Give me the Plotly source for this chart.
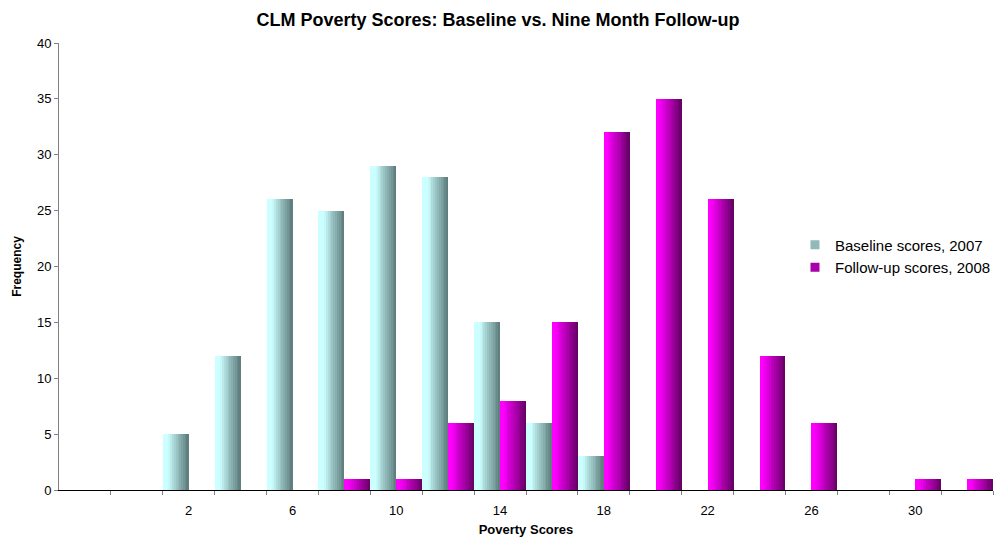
import plotly.graph_objects as go

# Poverty score bins and frequency counts
scores = [0, 2, 4, 6, 8, 10, 12, 14, 16, 18, 20, 22, 24, 26, 28, 30, 32]
baseline_2007 = [0, 5, 12, 26, 25, 29, 28, 15, 6, 3, 0, 0, 0, 0, 0, 0, 0]
followup_2008 = [0, 0, 0, 0, 1, 1, 6, 8, 15, 32, 35, 26, 12, 6, 0, 1, 1]
tick_labels = [2, 6, 10, 14, 18, 22, 26, 30]

series_names = ["Baseline scores, 2007", "Follow-up scores, 2008"]

FONT = "Arial, 'Liberation Sans', sans-serif"
N_STRIPS = 14


def lerp(c0, c1, t):
    return "rgb(%d,%d,%d)" % tuple(round(a + (b - a) * t) for a, b in zip(c0, c1))


def cyan_shade(t):
    # light cyan on the left third, shading to slate grey on the right
    u = max(0.0, (t - 0.22) / 0.78)
    return lerp((204, 255, 255), (92, 122, 122), u ** 0.9)


def magenta_shade(t):
    u = max(0.0, (t - 0.12) / 0.88)
    return lerp((255, 0, 255), (100, 0, 100), u)


fig = go.Figure()

# Each bar is built from overlapping vertical strips to give a horizontal gradient
for values, shade, start in [(baseline_2007, cyan_shade, -1.0), (followup_2008, magenta_shade, 0.0)]:
    for i in range(N_STRIPS):
        t = i / N_STRIPS
        fig.add_trace(go.Bar(
            x=scores, y=values,
            offset=start + t, width=1.0 - t,
            marker=dict(color=shade(t + 0.5 / N_STRIPS), line=dict(width=0)),
            showlegend=False, hoverinfo="skip",
        ))

# Legend entries
for name, shade in zip(series_names, [cyan_shade, magenta_shade]):
    fig.add_trace(go.Scatter(
        x=[None], y=[None], mode="markers", name=name,
        marker=dict(symbol="square", size=9, color=shade(0.6)),
    ))

fig.update_layout(
    width=1002, height=537,
    margin=dict(l=59, r=9, t=43, b=47, autoexpand=False),
    paper_bgcolor="white", plot_bgcolor="white",
    barmode="overlay", bargap=0,
    font=dict(family=FONT, size=13, color="black"),
    title=dict(
        text="<b>CLM Poverty Scores: Baseline vs. Nine Month Follow-up</b>",
        font=dict(family=FONT, size=18, color="black"),
        x=0.497, xanchor="center", y=1 - 20 / 537, yanchor="middle",
    ),
    legend=dict(
        x=0.788, xanchor="left", y=0.585, yanchor="top",
        font=dict(family=FONT, size=15, color="black"),
        bgcolor="rgba(0,0,0,0)", tracegroupgap=0,
    ),
    xaxis=dict(
        range=[-3, 33], tickvals=tick_labels, ticktext=[str(v) for v in tick_labels],
        ticks="", showgrid=False, zeroline=False, ticklabelstandoff=8,
        showline=True, linecolor="black", linewidth=1,
        tickfont=dict(family=FONT, size=13, color="black"),
        minor=dict(tickvals=[s - 1 for s in scores] + [33], ticks="outside",
                   ticklen=4, tickcolor="#808080", tickwidth=1, showgrid=False),
        title=dict(text="<b>Poverty Scores</b>", standoff=10,
                   font=dict(family=FONT, size=13, color="black")),
        automargin=False,
    ),
    yaxis=dict(
        range=[0, 40], dtick=5, ticks="outside", ticklen=4, tickcolor="#808080",
        showgrid=False, zeroline=False,
        showline=True, linecolor="#808080", linewidth=1,
        tickfont=dict(family=FONT, size=13, color="black"),
        title=dict(text="<b>Frequency</b>", standoff=12,
                   font=dict(family=FONT, size=12, color="black")),
        automargin=False,
    ),
)

fig.write_html("out.html")
